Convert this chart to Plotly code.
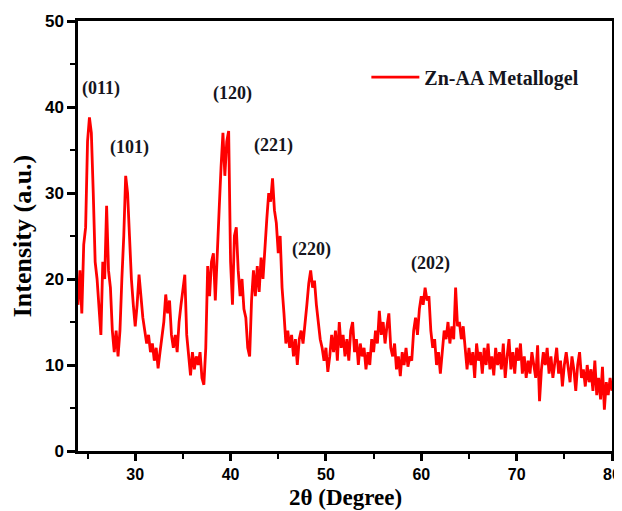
import plotly.graph_objects as go

two_theta_start = 24.0
two_theta_step = 0.2

intensity = [
    # 24.0 - 24.8
    17, 21, 16, 24, 26,
    # 25
    36, 38.8, 37, 30, 22,
    # 26
    20, 16, 13.5, 22, 20,
    # 27
    28.5, 21, 19, 14, 11.5,
    # 28
    14, 11, 14, 20, 25,
    # 29
    32, 30, 25, 20, 17,
    # 30
    14.5, 17, 20.5, 18, 15.5,
    # 31
    14, 12.5, 13.5, 11.5, 12.5,
    # 32
    10.5, 12, 9.6, 11.5, 13.5,
    # 33
    15, 18.2, 16, 17.5, 13.5,
    # 34
    12, 13.5, 11.5, 15, 17,
    # 35
    19, 20.5, 13.5, 11, 8.8,
    # 36
    11.5, 9.5, 11, 10, 11.5,
    # 37
    8.5, 7.7, 12, 21.5, 18,
    # 38
    22, 23, 17.5, 24, 28,
    # 39
    33, 37, 32, 36, 37.2,
    # 40
    22, 17, 25, 26, 21,
    # 41
    18, 20, 16.5, 15.5, 12,
    # 42
    11, 17.5, 21, 18, 21.5,
    # 43
    18.5, 22.5, 20, 24, 27,
    # 44
    30, 29, 31.7, 28, 26.5,
    # 45
    23, 25, 19, 16, 12.5,
    # 46
    14, 12, 13.5, 11, 13,
    # 47
    10, 13, 14, 12.5, 14.5,
    # 48
    17, 19.5, 21, 19, 19.8,
    # 49
    17, 15, 13, 12, 10.5,
    # 50
    12, 9.2, 11, 13.5, 11.5,
    # 51
    14, 10.5, 15, 12, 13.5,
    # 52
    11, 13, 10.5, 14, 15,
    # 53
    11.5, 13, 10, 12.5, 11,
    # 54
    12, 9.5, 11.5, 10, 13,
    # 55
    11.5, 14, 12.5, 16.3, 13.5,
    # 56
    15, 12.5, 14.5, 16, 12,
    # 57
    11, 12.5, 9.5, 11, 8.7,
    # 58
    11.5, 10, 12, 9.8, 11,
    # 59
    10.5, 14, 15.5, 13.5, 16.5,
    # 60
    18, 17, 19, 17.5, 18,
    # 61
    14, 12, 13, 10, 11.5,
    # 62
    9, 11.5, 14, 13, 15,
    # 63
    12.5, 14.5, 13, 19, 14.5,
    # 64
    15, 13, 14.5, 12, 9.5,
    # 65
    12, 10, 11.5, 8.5, 12.5,
    # 66
    10.5, 11.5, 9, 12, 10,
    # 67
    12.5, 9.5, 11, 8.8, 12,
    # 68
    10, 11.5, 9.5, 12.5, 8.5,
    # 69
    11, 13, 9.5, 11.5, 9,
    # 70
    12, 10.5, 12.5, 9, 11,
    # 71
    8.5, 10.5, 9, 11.5, 10,
    # 72
    8.5, 12.3, 5.8, 9.5, 11.5,
    # 73
    10, 12, 9, 11, 8.5,
    # 74
    10.5, 12, 9, 10.5, 7.5,
    # 75
    10, 11.5, 9.5, 8, 11,
    # 76
    9.5, 7, 10, 11.5, 8.5,
    # 77
    9.5, 7.5, 10, 8, 9.5,
    # 78
    7, 10.5, 6.5, 8.5, 6,
    # 79
    9.8, 4.8, 8, 6.5, 8.5,
    # 80
    7,
]

two_theta = [round(two_theta_start + i * two_theta_step, 2) for i in range(len(intensity))]

peak_labels = ["(011)", "(101)", "(120)", "(221)", "(220)", "(202)"]
peak_label_x = [26.4, 29.45, 40.25, 44.55, 48.48, 61.0]
peak_label_y = [42.15, 35.3, 41.6, 35.5, 23.4, 21.8]

x_ticks = [30, 40, 50, 60, 70, 80]
y_ticks = [0, 10, 20, 30, 40, 50]

x_title = "2θ (Degree)"
y_title = "Intensity (a.u.)"

fig = go.Figure()
fig.add_trace(go.Scatter(
    x=two_theta, y=intensity, mode="lines",
    name="<b>Zn-AA Metallogel</b>",
    line=dict(color="#ff0000", width=2.8),
))

for txt, lx, ly in zip(peak_labels, peak_label_x, peak_label_y):
    fig.add_annotation(x=lx, y=ly, text="<b>" + txt + "</b>", showarrow=False,
                       font=dict(family="Liberation Serif", size=18, color="#151520"))

# x-axis title placed as paper annotation so it sits at the very bottom like the original
fig.add_annotation(x=0.5, y=-0.0767, xref="paper", yref="paper",
                   xanchor="center", yanchor="top", showarrow=False,
                   text="<b>" + x_title + "</b>", borderpad=0,
                   font=dict(family="Liberation Serif", size=23, color="black"))

axis_common = dict(
    showline=True, linewidth=2.5, linecolor="black", mirror=True,
    ticks="outside", tickwidth=2.5, tickcolor="black",
    showgrid=False, zeroline=False, automargin=False,
    ticklabeloverflow="allow",
)

fig.update_xaxes(
    range=[24, 80], tickvals=x_ticks, ticktext=["<b>%d</b>" % v for v in x_ticks],
    ticklen=7,
    tickfont=dict(family="Liberation Sans", size=16, color="black"),
    minor=dict(ticks="outside", ticklen=5, tickwidth=2, tickcolor="black", dtick=5, tick0=0),
    **axis_common,
)
fig.update_yaxes(
    range=[0, 50], tickvals=y_ticks, ticktext=["<b>%d</b>" % v for v in y_ticks],
    ticklen=8,
    tickfont=dict(family="Liberation Sans", size=17, color="black"),
    minor=dict(ticks="outside", ticklen=5, tickwidth=2, tickcolor="black", dtick=5, tick0=0),
    title=dict(text="<b>" + y_title + "</b>", standoff=6,
               font=dict(family="Liberation Serif", size=26, color="black")),
    **axis_common,
)

fig.update_layout(
    width=614, height=503,
    margin=dict(l=70, r=10, t=13, b=60),
    paper_bgcolor="white", plot_bgcolor="white",
    showlegend=True,
    legend=dict(x=0.54, y=0.915, xanchor="left", yanchor="top",
                bgcolor="rgba(0,0,0,0)", itemwidth=48,
                font=dict(family="Liberation Serif", size=20, color="#151520")),
)

fig.write_html("out.html")
